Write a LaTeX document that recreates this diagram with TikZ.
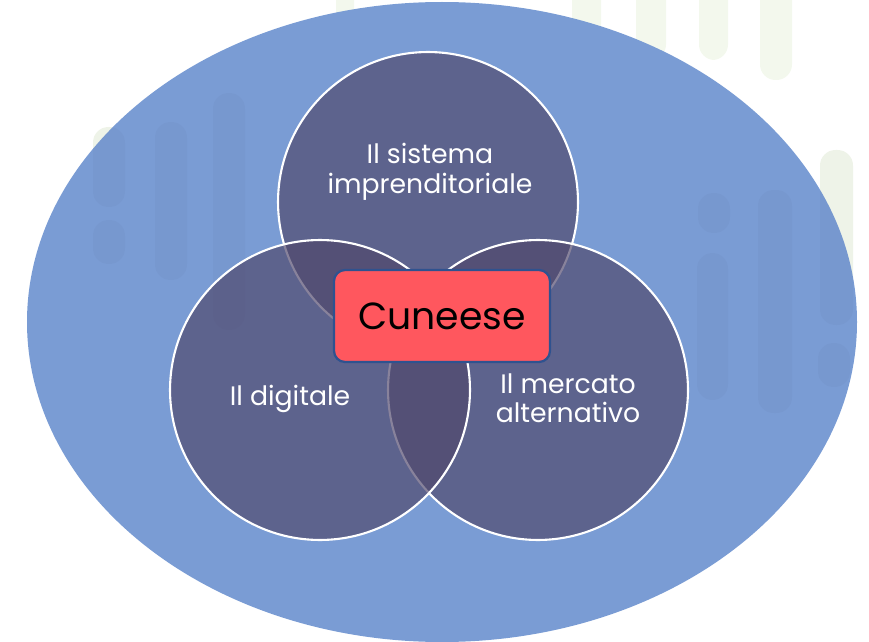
\documentclass[tikz,border=0pt]{standalone}
\usepackage{fontspec}
\setmainfont{Poppins}
\usetikzlibrary{positioning}
\definecolor{ovalblue}{RGB}{122,156,212}
\definecolor{setpurple}{RGB}{80,72,108}
\definecolor{boxred}{RGB}{255,87,94}
\definecolor{boxedge}{RGB}{47,82,143}
\definecolor{pillgreen}{RGB}{243,248,237}

\begin{document}
\begin{tikzpicture}
          [x=0.02cm, y=-0.02cm,
           setcircle/.style={draw=white, line width=1.2pt, fill=setpurple, fill opacity=0.68,
                             circle, minimum size=6cm, inner sep=0pt},
           setlabel/.style={text=white, align=center, font=\fontsize{15.2}{16.8}\selectfont},
           pill/.style={fill=pillgreen, rounded corners=0.31cm},
           darkpill/.style={fill=black, opacity=0.02, rounded corners=0.31cm}]
          \useasboundingbox (0,0) rectangle (869,642);

          % faint stripes behind the oval
          \fill[pill] (336,-20) rectangle (354,40);
          \fill[pill] (572,-20) rectangle (601,40);
          \fill[pill] (636,-20) rectangle (666,60);
          \fill[pill] (699,-20) rectangle (728,60);
          \fill[pill] (760,-20) rectangle (792,80);
          \fill[pill] (820,150) rectangle (853,330);
          \fill[pill] (93,127) rectangle (125,207);

          \fill[ovalblue] (442,322) ellipse [x radius=415, y radius=320];

          \fill[darkpill] (93,127) rectangle (125,207);
          \fill[darkpill] (93,220) rectangle (125,264);
          \fill[darkpill] (155,122) rectangle (187,280);
          \fill[darkpill] (213,93) rectangle (245,330);
          \fill[darkpill] (698,193) rectangle (730,233);
          \fill[darkpill] (697,253) rectangle (728,400);
          \fill[darkpill] (758,190) rectangle (792,413);
          \fill[darkpill] (820,150) rectangle (853,325);
          \fill[darkpill] (818,343) rectangle (850,387);

          \node[setcircle] (sistema) at (428,202) {};
          \node[setcircle] (mercato) at (538,390) {};
          \node[setcircle] (digitale) at (320,390) {};

          \node[setlabel] (tsistema) at (430,172) {Il sistema\\imprenditoriale};
          \node[setlabel] (tdigitale) at (290,399) {Il digitale};
          \node[setlabel] (tmercato) at (568,398) {Il mercato\\alternativo};

          \node (cuneo) at (442,316) [fill=boxred, draw=boxedge, line width=1.3pt,
                rounded corners=0.22cm, minimum width=4.32cm, minimum height=1.84cm,
                font=\fontsize{21.5}{24}\selectfont] {Cuneese};

        \end{tikzpicture}
\end{document}
